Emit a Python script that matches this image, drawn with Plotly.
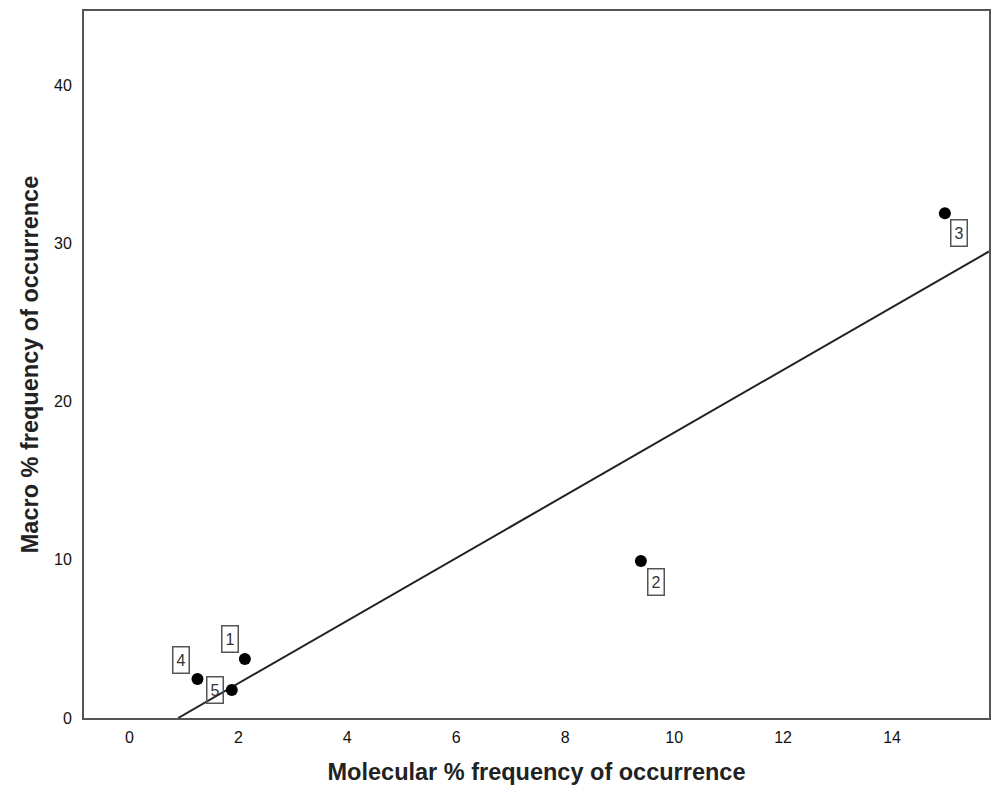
import numpy as np
import plotly.graph_objects as go

labels = ["1", "2", "3", "4", "5"]
molecular = [2.12, 9.39, 14.97, 1.25, 1.88]
macro = [3.73, 9.92, 31.9, 2.46, 1.77]
x_ticks = [0, 2, 4, 6, 8, 10, 12, 14]
y_ticks = [0, 10, 20, 30, 40]
label_shift = {"1": (-15, 20), "2": (15, -21), "3": (14, -20), "4": (-16, 19), "5": (-17, 0)}

x_range = [-0.833, 15.78]
y_range = [0, 44.68]

slope, intercept = np.polyfit(molecular, macro, 1)
x0 = -intercept / slope
fit_x = [x0, x_range[1]]
fit_y = [slope * v + intercept for v in fit_x]

fig = go.Figure()
fig.add_trace(go.Scatter(x=fit_x, y=fit_y, mode="lines",
                         line=dict(color="#222222", width=2), showlegend=False))
fig.add_trace(go.Scatter(x=molecular, y=macro, mode="markers",
                         marker=dict(color="black", size=12), showlegend=False))

for lab, xv, yv in zip(labels, molecular, macro):
    dx, dy = label_shift[lab]
    fig.add_annotation(x=xv, y=yv, text=lab, showarrow=False, xshift=dx, yshift=dy,
                       font=dict(family="Liberation Sans, Arial", size=16, color="#333333"),
                       bordercolor="#555555", borderwidth=1.5, borderpad=2,
                       width=11, height=21, bgcolor="rgba(255,255,255,0)")

axis_font = dict(family="Liberation Sans, Arial", size=16, color="#111111")
title_font = dict(family="Liberation Sans, Arial", size=23.5, color="#222222")

fig.update_layout(
    width=994, height=787,
    margin=dict(l=84, r=3, t=11, b=69),
    plot_bgcolor="white", paper_bgcolor="white",
    xaxis=dict(range=x_range, tickvals=x_ticks, showgrid=False, zeroline=False,
               showline=True, mirror=True, linecolor="#555555", linewidth=2,
               ticks="", tickfont=axis_font, ticklabelstandoff=4,
               title=dict(text="<b>Molecular % frequency of occurrence</b>", font=title_font,
                          standoff=18)),
    yaxis=dict(range=y_range, tickvals=y_ticks, showgrid=False, zeroline=False,
               showline=True, mirror=True, linecolor="#555555", linewidth=2,
               ticks="", tickfont=axis_font, ticklabelstandoff=7,
               title=dict(text="<b>Macro % frequency of occurrence</b>", font=title_font,
                          standoff=9)),
)

fig.write_html("out.html")
